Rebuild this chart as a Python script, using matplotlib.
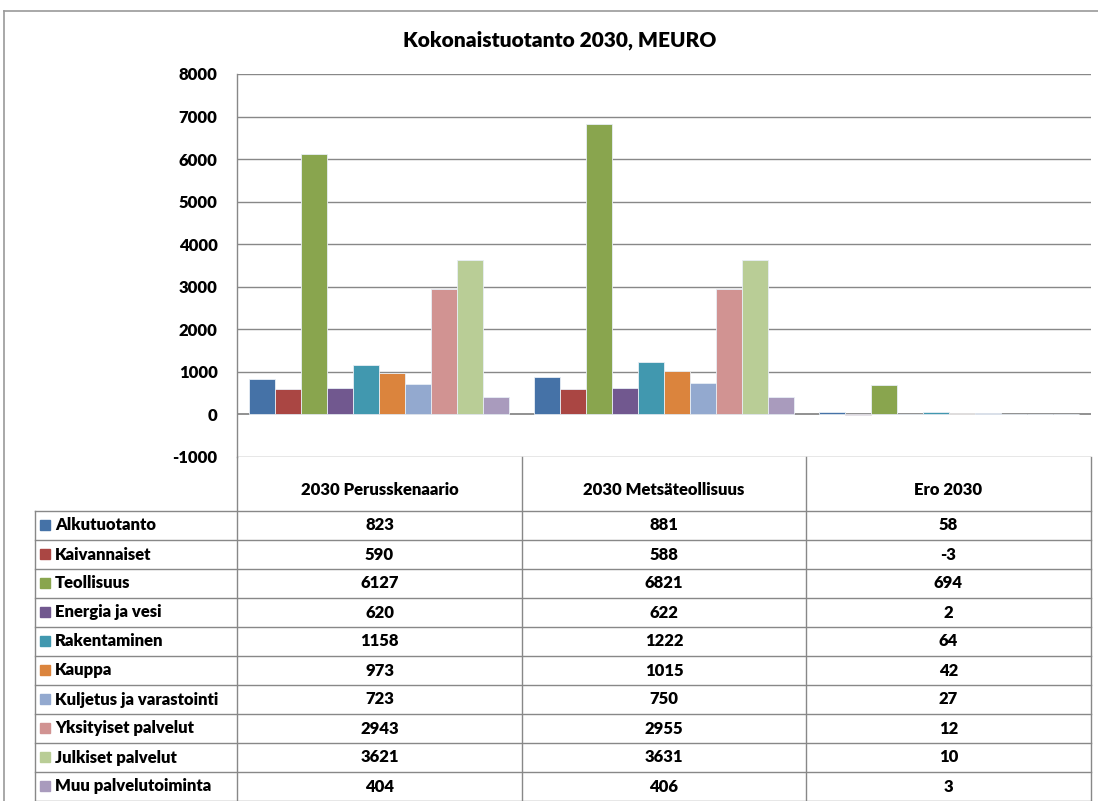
import matplotlib
matplotlib.use("Agg")
import matplotlib.pyplot as plt
from matplotlib.patches import Rectangle

plt.rcParams['font.family'] = ['Lato', 'DejaVu Sans']
FW = 800

title = "Kokonaistuotanto 2030, MEURO"
scenarios = ["2030 Perusskenaario", "2030 Metsäteollisuus", "Ero 2030"]
sectors = ["Alkutuotanto", "Kaivannaiset", "Teollisuus", "Energia ja vesi",
           "Rakentaminen", "Kauppa", "Kuljetus ja varastointi",
           "Yksityiset palvelut", "Julkiset palvelut", "Muu palvelutoiminta"]
perus = [823, 590, 6127, 620, 1158, 973, 723, 2943, 3621, 404]
metsa = [881, 588, 6821, 622, 1222, 1015, 750, 2955, 3631, 406]
ero = [58, -3, 694, 2, 64, 42, 27, 12, 10, 3]
colors = ["#4572A7", "#AA4643", "#89A54E", "#71588F", "#4198AF",
          "#DB843D", "#93A9CF", "#D19392", "#B9CD96", "#A99BBD"]
yticks = [-1000, 0, 1000, 2000, 3000, 4000, 5000, 6000, 7000, 8000]

W, H = 1098, 801
fig = plt.figure(figsize=(W / 100, H / 100), dpi=100)

ov = fig.add_axes([0, 0, 1, 1], zorder=0)
ov.set_xlim(0, W)
ov.set_ylim(H, 0)
ov.axis('off')

PL, PR, PT, PB = 237, 1091, 74, 457
cols = [PL, 522, 806, PR]
LBL_L = 35
HDR_B = 511
ROW_H = 29.0

ax = fig.add_axes([PL / W, 1 - PB / H, (PR - PL) / W, (PB - PT) / H], zorder=2)
ax.set_facecolor('none')

series = list(zip(*[perus, metsa, ero]))
n = len(sectors)
bw = 0.0913
for i in range(n):
    xs = [g - 0.5 + 0.0435 + bw * (i + 0.5) for g in range(3)]
    ax.bar(xs, series[i], width=bw, color=colors[i], edgecolor='#e8eef5',
           linewidth=0.6, zorder=3)

ax.set_xlim(-0.5, 2.5)
ax.set_ylim(-1000, 8000)
ax.set_yticks(yticks)
ax.set_yticklabels([str(v) for v in yticks], fontsize=12, fontweight=FW)
ax.tick_params(axis='y', length=0, pad=14)
ax.set_xticks([])
for v in yticks:
    ax.axhline(v, color='#888888', lw=1.3 if v == 0 else 1.0,
               zorder=2 if v == 0 else 1)
for s in ['top', 'right', 'bottom']:
    ax.spines[s].set_visible(False)
ax.spines['left'].set_color('#888888')
ax.spines['left'].set_linewidth(1.0)

ov.plot([4, 4], [H + 5, 11], color='#999999', lw=1.2)
ov.plot([4, W + 5], [11, 11], color='#999999', lw=1.2)

ov.text(560, 40, title, ha='center', va='center', fontsize=15, fontweight=FW)

lc = '#888888'
for x in cols:
    ov.plot([x, x], [PB, H], color=lc, lw=1.0)
ov.plot([LBL_L, LBL_L], [HDR_B, H], color=lc, lw=1.0)
for r in range(n + 1):
    y = HDR_B + r * ROW_H
    ov.plot([LBL_L, PR], [y, y], color=lc, lw=1.0)

for j, s in enumerate(scenarios):
    ov.text((cols[j] + cols[j + 1]) / 2, 490, s, ha='center', va='center',
            fontsize=12, fontweight=FW)

table_vals = [perus, metsa, ero]
for r in range(n):
    yc = HDR_B + (r + 0.5) * ROW_H
    ov.add_patch(Rectangle((40, yc - 5.5), 10, 10, color=colors[r]))
    ov.text(55, yc, sectors[r], ha='left', va='center', fontsize=12,
            fontweight=FW)
    for j in range(3):
        ov.text((cols[j] + cols[j + 1]) / 2, yc, str(table_vals[j][r]),
                ha='center', va='center', fontsize=12, fontweight=FW)

fig.savefig("out.png", dpi=100)
